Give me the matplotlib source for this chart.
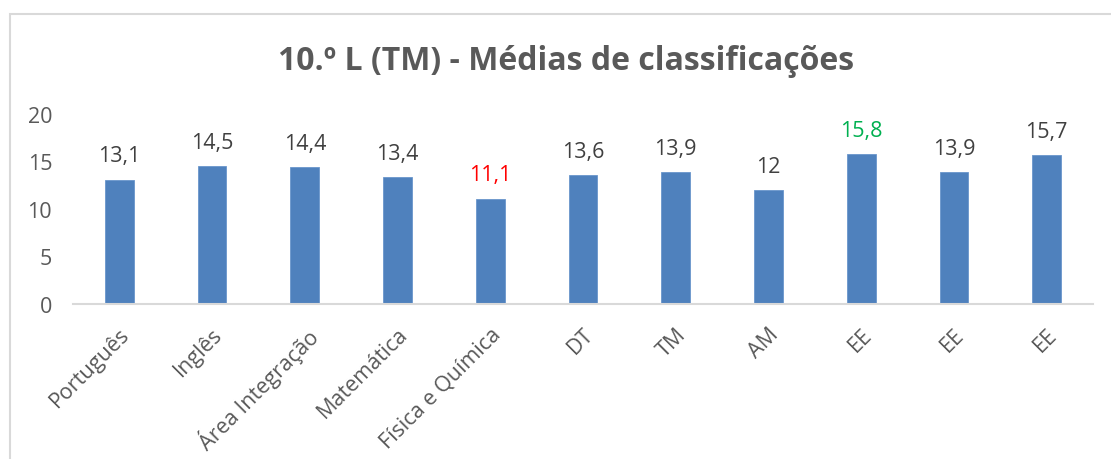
import matplotlib
matplotlib.use("Agg")
import matplotlib.pyplot as plt
from matplotlib.patches import Rectangle

categories = ["Português", "Inglês", "Área Integração", "Matemática", "Física e Química",
              "DT", "TM", "AM", "EE", "EE", "EE"]
values = [13.1, 14.5, 14.4, 13.4, 11.1, 13.6, 13.9, 12, 15.8, 13.9, 15.7]
value_labels = ["13,1", "14,5", "14,4", "13,4", "11,1", "13,6", "13,9", "12", "15,8", "13,9", "15,7"]
label_colors = ["#404040", "#404040", "#404040", "#404040", "#FF0000", "#404040",
                "#404040", "#404040", "#00B050", "#404040", "#404040"]
yticks = [0, 5, 10, 15, 20]
title = "10.º L (TM) - Médias de classificações"

plt.rcParams['font.family'] = ['Open Sans', 'DejaVu Sans']

W, H = 1111, 460
fig = plt.figure(figsize=(W / 100, H / 100), dpi=100)
fig.patch.set_facecolor("white")

# chart border (top and left visible)
fig.add_artist(Rectangle((10 / W, -0.1), 1.2, (H - 15) / H + 0.1, transform=fig.transFigure,
                         fill=False, edgecolor="#D9D9D9", linewidth=1.5))

left, right = 73 / W, 1093 / W
bottom, top = 1 - 305 / H, 1 - 115 / H
ax = fig.add_axes([left, bottom, right - left, top - bottom])

x = list(range(len(categories)))
ax.bar(x, values, width=0.31, color="#4F81BD", edgecolor="#6A96CC", linewidth=0.6, zorder=2)

fs = 15.5
for xi, v, lab, c in zip(x, values, value_labels, label_colors):
    ax.annotate(lab, (xi, v), xytext=(0, 13), textcoords="offset points",
                ha="center", va="baseline", fontsize=fs, color=c)

ax.set_xlim(-0.5, len(categories) - 0.5)
ax.set_ylim(0, 20)
ax.set_yticks(yticks)
ax.set_yticklabels([str(t) for t in yticks], fontsize=fs, color="#595959")
ax.tick_params(axis="y", length=0, pad=15)
ax.set_xticks(x)
ax.set_xticklabels(categories, rotation=45, ha="right", rotation_mode="anchor",
                   fontsize=fs, color="#595959")
ax.tick_params(axis="x", length=0, pad=14)

for s in ["top", "right", "left"]:
    ax.spines[s].set_visible(False)
ax.spines["bottom"].set_color("#D9D9D9")
ax.spines["bottom"].set_linewidth(1.5)
ax.spines["bottom"].set_zorder(3)

fig.text(566 / W, 1 - 61 / H, title, ha="center", va="center", fontsize=23,
         fontweight="bold", color="#595959")

fig.savefig("out.png", dpi=100, facecolor="white")
